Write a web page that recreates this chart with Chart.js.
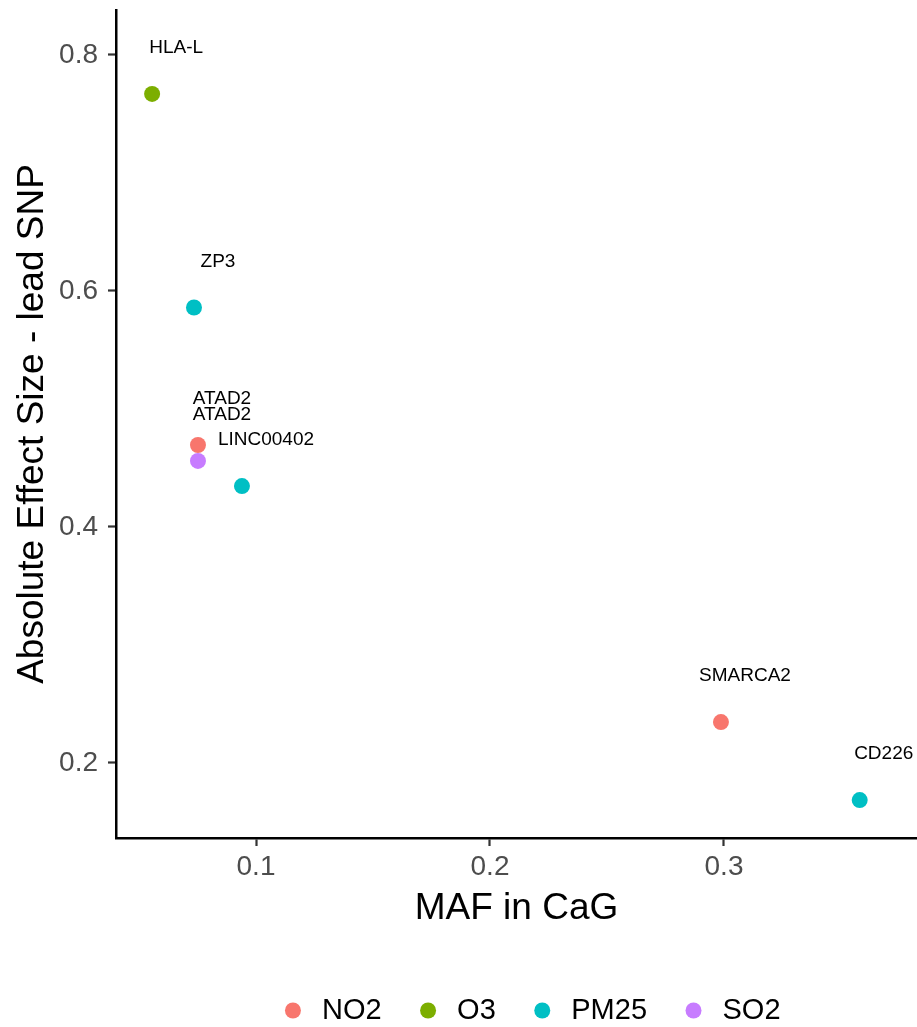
<!DOCTYPE html>
<html>
<head>
<meta charset="utf-8">
<script src="https://cdn.jsdelivr.net/npm/chart.js@4.4.1/dist/chart.umd.min.js"></script>
<style>
  html, body { margin: 0; padding: 0; background: #fff; overflow: hidden; }
  #wrap { width: 917px; height: 1027px; }
  canvas { display: block; }
</style>
</head>
<body>
<div id="wrap"><canvas id="grafico" width="917" height="1027"></canvas></div>
<script>
// ===== DATA =====
const genes     = ['HLA-L', 'ZP3', 'ATAD2', 'ATAD2', 'LINC00402', 'SMARCA2', 'CD226'];
const pollutant = ['O3', 'PM25', 'NO2', 'SO2', 'PM25', 'NO2', 'PM25'];
const maf       = [0.0556, 0.0735, 0.0752, 0.0752, 0.0940, 0.2987, 0.3580];
const effect    = [0.767, 0.586, 0.4695, 0.456, 0.4347, 0.2347, 0.1686];

const groups = ['NO2', 'O3', 'PM25', 'SO2'];
const xTicks = [0.1, 0.2, 0.3];
const yTicks = [0.2, 0.4, 0.6, 0.8];

// ===== STYLE =====
const colores = { NO2: '#F8766D', O3: '#7CAE00', PM25: '#00BFC4', SO2: '#C77CFF' };
const FONT = "'Liberation Sans', Arial, sans-serif";

// one dataset per pollutant, points keep their gene label
const datasets = groups.map(g => {
  const pts = [];
  maf.forEach((x, i) => {
    if (pollutant[i] === g) pts.push({ x: x, y: effect[i], gene: genes[i] });
  });
  return {
    label: g,
    data: pts,
    backgroundColor: colores[g],
    borderColor: colores[g],
    borderWidth: 0,
    pointRadius: 8,
    pointHoverRadius: 8
  };
});

// ===== gene labels above each point =====
const rotulos = {
  id: 'rotulos',
  afterDatasetsDraw(chart) {
    const ctx = chart.ctx;
    ctx.save();
    ctx.font = '19px ' + FONT;
    ctx.fillStyle = '#000';
    ctx.textAlign = 'center';
    ctx.textBaseline = 'middle';
    chart.data.datasets.forEach((ds, di) => {
      chart.getDatasetMeta(di).data.forEach((el, i) => {
        ctx.fillText(ds.data[i].gene, el.x + 24, el.y - 46);
      });
    });
    ctx.restore();
  }
};

// legend sits a bit right of centre, like ggplot
const moverLegenda = {
  id: 'moverLegenda',
  afterLayout(chart) {
    chart.legend.left += 13;
    chart.legend.right += 13;
  }
};

function semPadding(scale) {
  scale.paddingTop = 0; scale.paddingBottom = 0;
  scale.paddingLeft = 0; scale.paddingRight = 0;
}

new Chart(document.getElementById('grafico').getContext('2d'), {
  type: 'scatter',
  data: { datasets: datasets },
  plugins: [rotulos, moverLegenda],
  options: {
    responsive: false,
    animation: false,
    layout: { autoPadding: false, padding: { top: 10, left: 0, right: 0, bottom: 0 } },
    plugins: {
      tooltip: { enabled: false },
      legend: {
        position: 'bottom',
        fullSize: false,
        maxHeight: 63,
        labels: {
          usePointStyle: true,
          pointStyle: 'circle',
          boxWidth: 40,
          boxHeight: 11.3,
          padding: 32,
          color: '#000',
          font: { family: FONT, size: 29 }
        }
      }
    },
    scales: {
      x: {
        type: 'linear',
        min: 0.04017,
        max: 0.38248,
        afterBuildTicks: s => { s.ticks = xTicks.map(v => ({ value: v })); },
        afterFit: s => { s.height = 126; semPadding(s); },
        grid: { drawOnChartArea: false, drawTicks: true, tickLength: 8, tickColor: '#333', tickWidth: 2.2 },
        border: { display: true, color: '#000', width: 2.5 },
        ticks: {
          color: '#4D4D4D', padding: 4,
          font: { family: FONT, size: 28 },
          callback: v => v.toFixed(1)
        },
        title: {
          display: true, text: 'MAF in CaG', color: '#000',
          font: { family: FONT, size: 37 },
          padding: { top: 0, bottom: 33 }
        }
      },
      y: {
        type: 'linear',
        min: 0.13644,
        max: 0.8381,
        afterBuildTicks: s => { s.ticks = yTicks.map(v => ({ value: v })); },
        afterFit: s => { s.width = 116; semPadding(s); },
        grid: { drawOnChartArea: false, drawTicks: true, tickLength: 8, tickColor: '#333', tickWidth: 2.2 },
        border: { display: true, color: '#000', width: 2.5 },
        ticks: {
          color: '#4D4D4D', padding: 10,
          font: { family: FONT, size: 28 },
          callback: v => v.toFixed(1)
        },
        title: {
          display: true, text: 'Absolute Effect Size - lead SNP', color: '#000',
          font: { family: FONT, size: 37 },
          padding: { top: 11, bottom: 0 }
        }
      }
    }
  }
});
</script>
</body>
</html>
